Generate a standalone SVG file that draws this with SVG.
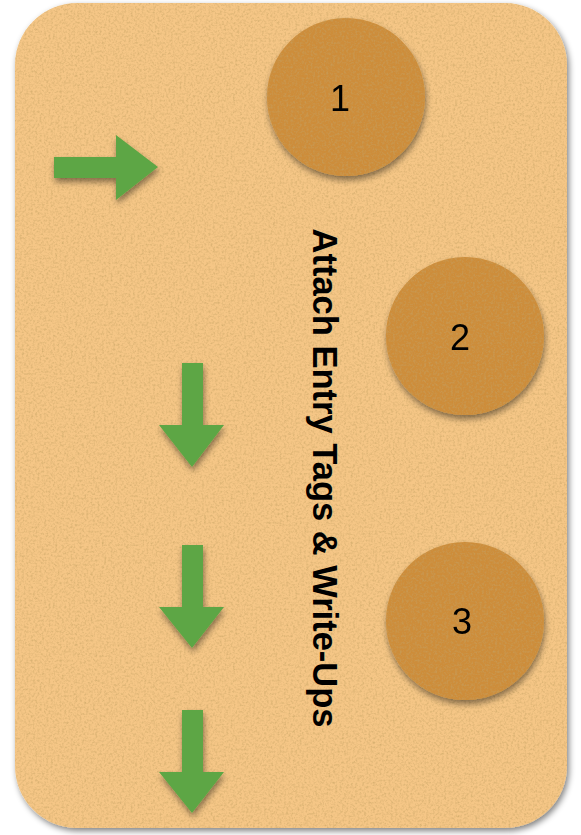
<svg xmlns="http://www.w3.org/2000/svg" width="581" height="835" viewBox="0 0 581 835">
<defs>
<filter id="cork" x="-5%" y="-5%" width="110%" height="110%">
<feTurbulence type="fractalNoise" baseFrequency="0.45" numOctaves="3" seed="4" result="n"/>
<feColorMatrix in="n" type="matrix" values="0 0 0 0 0.55  0 0 0 0 0.36  0 0 0 0 0.12  0 0 0 -1.3 0.75" result="spots"/>
<feComposite in="spots" in2="SourceGraphic" operator="in" result="tex"/>
<feMerge><feMergeNode in="SourceGraphic"/><feMergeNode in="tex"/></feMerge>
</filter>
<filter id="shadow" x="-20%" y="-20%" width="140%" height="140%">
<feGaussianBlur in="SourceAlpha" stdDeviation="3"/>
<feOffset dx="1" dy="4" result="b"/>
<feComponentTransfer in="b" result="s"><feFuncA type="linear" slope="0.45"/></feComponentTransfer>
<feMerge><feMergeNode in="s"/><feMergeNode in="SourceGraphic"/></feMerge>
</filter>
<filter id="bshadow" x="-5%" y="-5%" width="110%" height="110%">
<feGaussianBlur in="SourceAlpha" stdDeviation="3"/>
<feOffset dx="2" dy="3" result="b"/>
<feComponentTransfer in="b" result="s"><feFuncA type="linear" slope="0.5"/></feComponentTransfer>
<feMerge><feMergeNode in="s"/><feMergeNode in="SourceGraphic"/></feMerge>
</filter>
<style>
.circ{fill:#cd8d3a}
.arrow{fill:#5da644}
.num{font-family:"Liberation Sans",Arial,sans-serif;font-size:36px;fill:#000;text-anchor:middle;dominant-baseline:central}
.title{font-family:"Liberation Sans",Arial,sans-serif;font-size:34.5px;font-weight:bold;fill:#000;text-anchor:middle}
</style>
</defs>
<g id="board" filter="url(#bshadow)">
<rect x="15" y="3" width="552" height="825" rx="62" fill="#f5c686" filter="url(#cork)"/>
</g>
<g id="node1" filter="url(#shadow)">
<circle cx="346" cy="97" r="79" class="circ" filter="url(#cork)"/>
<text x="340" y="98" class="num">1</text>
</g>
<g id="node2" filter="url(#shadow)">
<circle cx="465" cy="336" r="79" class="circ" filter="url(#cork)"/>
<text x="460" y="337" class="num">2</text>
</g>
<g id="node3" filter="url(#shadow)">
<circle cx="465" cy="621" r="79" class="circ" filter="url(#cork)"/>
<text x="462" y="621" class="num">3</text>
</g>
<g id="connectors" filter="url(#shadow)">
<path class="arrow" d="M54 157 H116 V135 L158 167 L116 200 V178 H54 Z"/>
<path class="arrow" d="M182 363 H203 V425 H224 L192 467 L159 425 H182 Z"/>
<path class="arrow" d="M182 545 H203 V607 H224 L192 648 L159 607 H182 Z"/>
<path class="arrow" d="M182 710 H203 V772 H224 L192 813 L159 772 H182 Z"/>
</g>
<g id="label">
<text class="title" transform="translate(313 478) rotate(90)" x="0" y="0">Attach Entry Tags &amp; Write-Ups</text>
</g>
</svg>
